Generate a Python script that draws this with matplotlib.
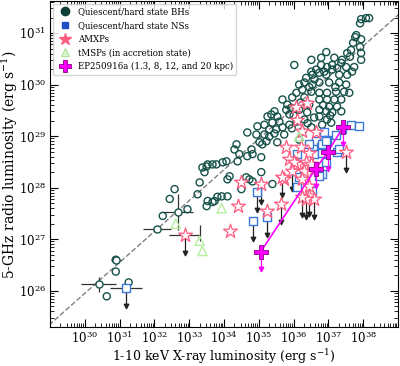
import numpy as np
import matplotlib
matplotlib.use("Agg")
import matplotlib.pyplot as plt
from matplotlib.lines import Line2D

plt.rcParams['font.family'] = 'DejaVu Serif'
plt.rcParams['mathtext.fontset'] = 'dejavuserif'

# quiescent/hard state black holes (log10 Lx, log10 LR)
bh_lx = [37.94, 38.08, 38.17, 37.91, 37.80, 37.77, 37.94, 37.71, 37.91, 37.94, 37.65, 37.54, 37.62,
         36.94, 36.79, 36.02, 37.39, 37.37, 37.11, 36.96, 36.79, 36.65, 36.51, 36.36, 36.54, 36.74,
         36.88, 37.11, 37.25, 37.51, 37.74, 37.68, 37.94, 37.54, 36.94, 37.31, 36.31, 36.54, 36.74,
         37.02, 37.31, 37.51, 36.25, 36.51, 36.74, 36.96, 37.22, 37.45, 37.60, 36.74, 36.96, 37.17,
         37.37, 37.02, 37.25, 37.37, 36.94, 36.74, 37.11, 36.96, 37.08, 36.82, 36.74, 36.16, 36.08,
         35.96, 35.82, 35.79, 35.93, 35.45, 35.36, 35.25, 35.53, 35.59, 35.39, 35.16, 34.96, 35.30,
         35.50, 35.68, 35.88, 36.08, 34.67, 34.93, 35.16, 35.45, 35.73, 36.25, 35.02, 35.22, 35.30,
         35.53, 35.10, 34.36, 34.30, 34.79, 34.82, 34.67, 34.44, 34.39, 35.07, 33.96, 34.07, 33.67,
         33.50, 33.38, 33.44, 34.16, 34.10, 34.64, 34.73, 34.82, 35.07, 35.39, 34.50, 34.10, 33.81,
         33.73, 33.53, 33.50, 33.67, 33.93, 33.53, 33.78, 33.30, 32.58, 32.44, 33.24, 32.24, 32.95,
         30.89, 30.89, 31.26, 30.63, 35.68, 35.88, 36.16, 36.45, 36.31, 36.51, 36.16, 36.39, 36.59,
         36.31, 36.51, 37.17, 36.60, 36.45, 36.85, 37.05, 37.20, 36.40, 36.20, 35.95, 36.00]
bh_lr = [31.27, 31.29, 31.29, 31.19, 30.96, 30.92, 30.88, 30.81, 30.73, 30.61, 30.67, 30.61, 30.54,
         30.63, 30.52, 30.38, 30.48, 30.42, 30.38, 30.34, 30.38, 30.29, 30.25, 30.13, 30.19, 30.23,
         30.25, 30.29, 30.32, 30.34, 30.34, 30.25, 30.48, 30.19, 30.19, 30.19, 30.04, 30.00, 30.04,
         30.04, 30.04, 30.00, 29.90, 29.86, 29.84, 29.84, 29.86, 29.86, 29.84, 29.71, 29.71, 29.71,
         29.71, 29.57, 29.57, 29.48, 29.48, 29.51, 29.46, 29.32, 29.26, 29.22, 29.38, 30.00, 29.84,
         29.75, 29.61, 29.51, 29.55, 29.48, 29.42, 29.38, 29.38, 29.28, 29.26, 29.22, 29.19, 29.13,
         29.13, 29.17, 29.22, 29.28, 29.07, 29.03, 29.03, 29.05, 29.03, 29.09, 28.88, 28.90, 28.99,
         28.88, 28.84, 28.84, 28.74, 28.74, 28.65, 28.61, 28.65, 28.51, 28.59, 28.49, 28.51, 28.45,
         28.41, 28.39, 28.30, 28.22, 28.16, 28.20, 28.16, 28.12, 28.30, 28.07, 27.97, 27.83, 27.82,
         27.74, 27.74, 27.64, 27.72, 27.83, 28.45, 28.45, 28.10, 27.97, 27.78, 27.87, 27.45, 27.58,
         26.60, 26.37, 26.16, 25.89, 29.71, 29.42, 29.51, 29.61, 29.32, 29.17, 28.93, 29.46, 29.36,
         29.75, 30.48, 30.52, 30.10, 29.95, 29.60, 29.40, 29.95, 29.25, 29.65, 29.15, 29.40]
# BHs with error bars: lx, lr, x half-width (dex), y half-width (dex)
bh_err_lx = [32.07, 30.40, 32.67, 30.89]
bh_err_lr = [27.20, 26.12, 27.53, 26.60]
bh_err_dx = [0.40, 0.50, 0.45, 0.15]
bh_err_dy = [0.00, 0.15, 0.35, 0.05]

# quiescent/hard state neutron stars
ns_lx = [37.65, 37.88, 37.39, 37.22, 36.88, 36.96, 36.65, 36.45, 36.79, 36.59, 36.94, 36.82, 36.74,
         36.11, 36.08, 36.16, 36.11, 37.25, 36.82, 36.82, 36.54, 37.31, 36.94]
ns_lr = [29.22, 29.19, 29.13, 29.03, 29.07, 28.93, 28.90, 28.84, 28.78, 28.65, 28.49, 28.26, 28.22,
         28.65, 28.32, 28.20, 28.01, 28.70, 28.84, 28.68, 27.93, 28.74, 28.90]
ns_ul_lx = [34.96, 34.82, 35.25, 31.18]
ns_ul_lr = [27.91, 27.35, 27.43, 26.06]

# AMXPs
amxp_lx = [36.08, 36.39, 36.11, 36.25, 36.65, 35.79, 36.22, 36.45, 35.88, 36.11, 36.36, 36.31,
           36.59, 36.25, 34.50, 34.39, 35.25, 36.02, 35.73, 36.51, 36.45, 34.16]
amxp_lr = [29.57, 29.65, 29.32, 29.09, 29.07, 28.78, 28.78, 28.68, 28.55, 28.45, 28.49, 28.32,
           28.36, 28.16, 28.10, 27.64, 27.55, 28.49, 28.16, 28.45, 28.03, 27.16]
amxp_ul_lx = [35.07, 36.45, 36.59, 36.36, 36.25, 35.65, 37.51, 32.87, 35.68, 35.96]
amxp_ul_lr = [28.07, 27.83, 27.78, 27.78, 27.82, 27.68, 28.70, 27.08, 28.20, 28.32]

# tMSPs in accretion state
tmsp_lx = [32.61, 33.30, 33.38, 33.93, 36.16]
tmsp_lr = [27.30, 26.97, 26.77, 27.60, 28.99]

# EP250916a at 1.3, 8, 12, 20 kpc
ep_lx = [35.05, 36.63, 36.99, 37.42]
ep_lr = [26.75, 28.36, 28.70, 29.17]

bh_c = '#17524a'
ns_c = '#3b78d8'
amxp_c = '#ff5c80'
tmsp_c = '#b5f0a0'
ep_c = '#ff00ff'

def p(v):
    return 10 ** np.array(v)

fig = plt.figure(figsize=(4.0, 3.66), dpi=100)
ax = fig.add_axes([0.125, 0.106, 0.87, 0.891])

# reference correlation
xl = np.array([28.5, 39.5])
ax.plot(10 ** xl, 10 ** (25.69 + 0.6 * (xl - 29.57)), ls='--', color='gray', lw=1.0, zorder=1)

# error bars
ex = p(bh_err_lx)
ey = p(bh_err_lr)
ax.errorbar(ex, ey,
            xerr=[ex - ex * 10 ** -np.array(bh_err_dx), ex * 10 ** np.array(bh_err_dx) - ex],
            yerr=[ey - ey * 10 ** -np.array(bh_err_dy), ey * 10 ** np.array(bh_err_dy) - ey],
            fmt='none', ecolor='#333333', elinewidth=0.9, zorder=2)

ax.scatter(p(bh_lx), p(bh_lr), s=26, facecolor='none', edgecolor=bh_c, lw=1.0, zorder=3)
ax.scatter(p(bh_err_lx), p(bh_err_lr), s=26, facecolor='white', edgecolor=bh_c, lw=1.0, zorder=3)

# upper limit arrows
def ul(lx, lr, color, dex=0.35, z=2):
    y = p(lr)
    ax.errorbar(p(lx), y, yerr=[y - y * 10 ** -dex, np.zeros(len(y))],
                fmt='none', ecolor=color, elinewidth=0.9, zorder=z)
    ax.scatter(p(lx), y * 10 ** -dex, marker='v', s=10, color=color, zorder=z)

ul(ns_ul_lx, ns_ul_lr, '#222222')
ul(amxp_ul_lx, amxp_ul_lr, '#222222')
ax.errorbar(p([31.18, 32.87]), p([26.06, 27.08]), xerr=[p([31.18, 32.87]) * (1 - 10 ** -0.45),
            p([31.18, 32.87]) * (10 ** 0.45 - 1)], fmt='none', ecolor='#333333', elinewidth=0.9, zorder=2)

ax.scatter(p(ns_lx + ns_ul_lx), p(ns_lr + ns_ul_lr), marker='s', s=40, facecolor='white',
           edgecolor=ns_c, lw=1.0, zorder=4)
ax.scatter(p(amxp_lx + amxp_ul_lx), p(amxp_lr + amxp_ul_lr), marker='*', s=110, facecolor='white',
           edgecolor=amxp_c, lw=0.9, zorder=5)
ax.errorbar(p([33.30]), p([26.97]), yerr=[p([26.97]) * 0.0, p([26.97]) * (10 ** 0.3 - 1)],
            fmt='none', ecolor='#333333', elinewidth=0.9, zorder=2)
ax.scatter(p(tmsp_lx), p(tmsp_lr), marker='^', s=45, facecolor='none', edgecolor=tmsp_c, lw=1.0, zorder=5)

# EP250916a
ax.plot(p(ep_lx), p(ep_lr), color=ep_c, lw=1.2, zorder=6)
ul(ep_lx, ep_lr, ep_c, dex=0.33, z=6)
ax.scatter(p(ep_lx), p(ep_lr), marker='P', s=90, color=ep_c, edgecolor='#8a008a', lw=0.6, zorder=7)

ax.set_xscale('log')
ax.set_yscale('log')
ax.set_xlim(1e29, 1e39)
ax.set_ylim(10 ** 25.29, 10 ** 31.62)
ax.set_xticks([10.0 ** k for k in range(30, 39)])
ax.set_yticks([10.0 ** k for k in range(26, 32)])
ax.xaxis.set_minor_locator(matplotlib.ticker.LogLocator(base=10, subs=np.arange(2, 10), numticks=20))
ax.yaxis.set_minor_locator(matplotlib.ticker.LogLocator(base=10, subs=np.arange(2, 10), numticks=20))
ax.xaxis.set_minor_formatter(matplotlib.ticker.NullFormatter())
ax.yaxis.set_minor_formatter(matplotlib.ticker.NullFormatter())
ax.tick_params(which='both', direction='in', top=True, right=True, labelsize=8.5)
ax.tick_params(which='major', length=6, pad=3)
ax.tick_params(axis='x', which='major', pad=2)
ax.tick_params(which='minor', length=3)
ax.set_xlabel('1-10 keV X-ray luminosity (erg s$^{-1}$)', fontsize=9)
ax.set_ylabel('5-GHz radio luminosity (erg s$^{-1}$)', fontsize=10)
ax.xaxis.set_label_coords(0.5, -0.061)
ax.yaxis.set_label_coords(-0.085, 0.5)

handles = [
    Line2D([], [], ls='none', marker='o', ms=6, mfc='#103e36', mec='#103e36'),
    Line2D([], [], ls='none', marker='s', ms=5, mfc='#1f4fc8', mec='#1f4fc8'),
    Line2D([], [], ls='none', marker='*', ms=9, mfc=amxp_c, mec=amxp_c),
    Line2D([], [], ls='none', marker='^', ms=6, mfc='#d8f5cc', mec='#9bdc85', mew=0.6),
    Line2D([], [], ls='none', marker='P', ms=9, mfc=ep_c, mec='#8a008a', mew=0.6),
]
labels = ['Quiescent/hard state BHs', 'Quiescent/hard state NSs', 'AMXPs',
          'tMSPs (in accretion state)', 'EP250916a (1.3, 8, 12, and 20 kpc)']
ax.legend(handles, labels, loc='upper left', fontsize=6.2, frameon=True, handletextpad=0.5,
          borderpad=0.4, labelspacing=0.55, borderaxespad=0.3)

fig.savefig('out.png', dpi=100)
